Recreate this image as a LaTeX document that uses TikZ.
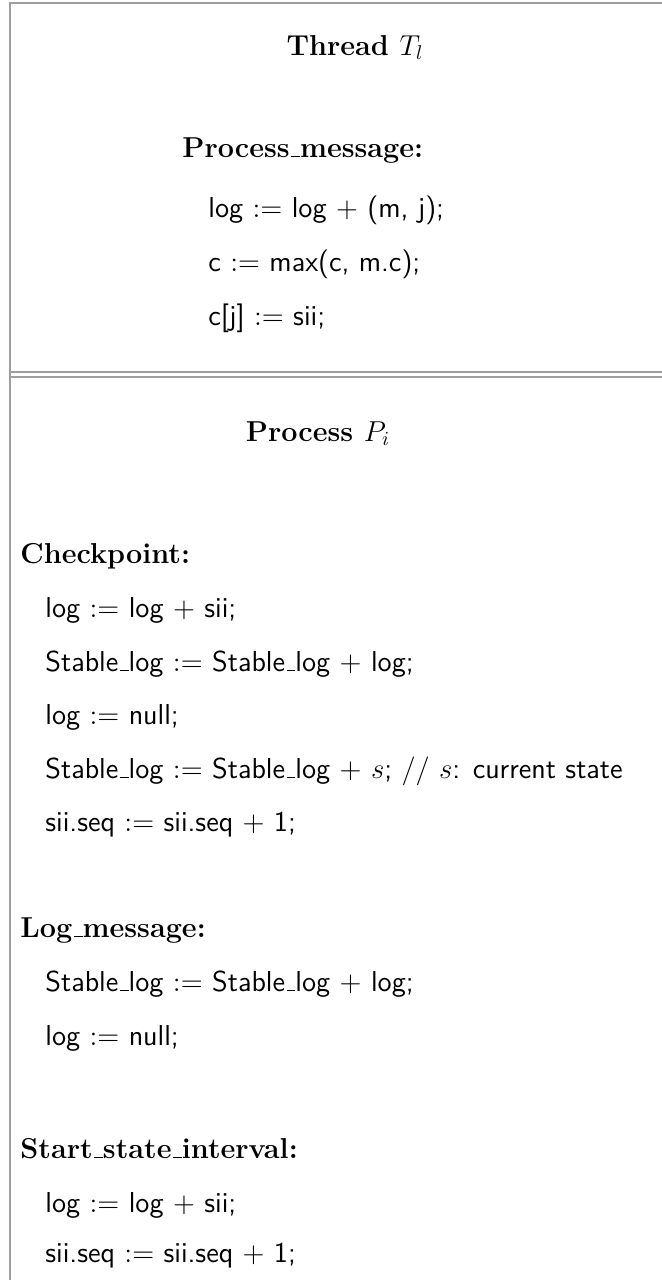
\documentclass[tikz,border=0pt]{standalone}
\usepackage{fontspec}
\newcommand\us{\leavevmode\kern.06em\vbox{\hrule height .05em width .3em}}
\begin{document}
\begin{tikzpicture}[x=0.5pt,y=-0.5pt,
  frame/.style={draw=black!38,line width=0.55pt},
  head/.style={anchor=base west,inner sep=0pt,font=\fontsize{14.4}{17}\selectfont\bfseries},
  title/.style={anchor=base,inner sep=0pt,font=\fontsize{14.4}{17}\selectfont\bfseries},
  code/.style={anchor=base west,inner sep=0pt,font=\fontsize{14.4}{17}\selectfont\sffamily}]
\useasboundingbox (0,0) rectangle (662,1280);
% frames
\draw[frame] (10,1280) -- (10,3) -- (662,3);
\draw[frame] (10,372) -- (662,372);
\draw[frame] (10,377) -- (662,377);
% Thread box
\node[title] (tt) at (355,55) {Thread $T_l$};
\node[head] (pm) at (182,157) {Process\us message:};
\node[code] (t1) at (208,217) {log $:=$ log $+$ (m, j);};
\node[code] (t2) at (208,271) {c $:=$ max(c, m.c);};
\node[code] (t3) at (208,325) {c[j] $:=$ sii;};
% Process box
\node[title] (pp) at (318,441) {Process $P_i$};
\node[head] (cp) at (20,563) {Checkpoint:};
\node[code] (c1) at (45,617) {log $:=$ log $+$ sii;};
\node[code] (c2) at (45,671) {Stable\us log $:=$ Stable\us log $+$ log;};
\node[code] (c3) at (45,724) {log $:=$ null;};
\node[code] (c4) at (45,778) {Stable\us log $:=$ Stable\us log $+$ $s$; $//$ $s$: current state};
\node[code] (c5) at (45,831) {sii.seq $:=$ sii.seq $+$ 1;};
\node[head] (lm) at (20,937) {Log\us message:};
\node[code] (l1) at (45,991) {Stable\us log $:=$ Stable\us log $+$ log;};
\node[code] (l2) at (45,1045) {log $:=$ null;};
\node[head] (ss) at (20,1158) {Start\us state\us interval:};
\node[code] (s1) at (45,1212) {log $:=$ log $+$ sii;};
\node[code] (s2) at (45,1262) {sii.seq $:=$ sii.seq $+$ 1;};
\end{tikzpicture}
\end{document}
